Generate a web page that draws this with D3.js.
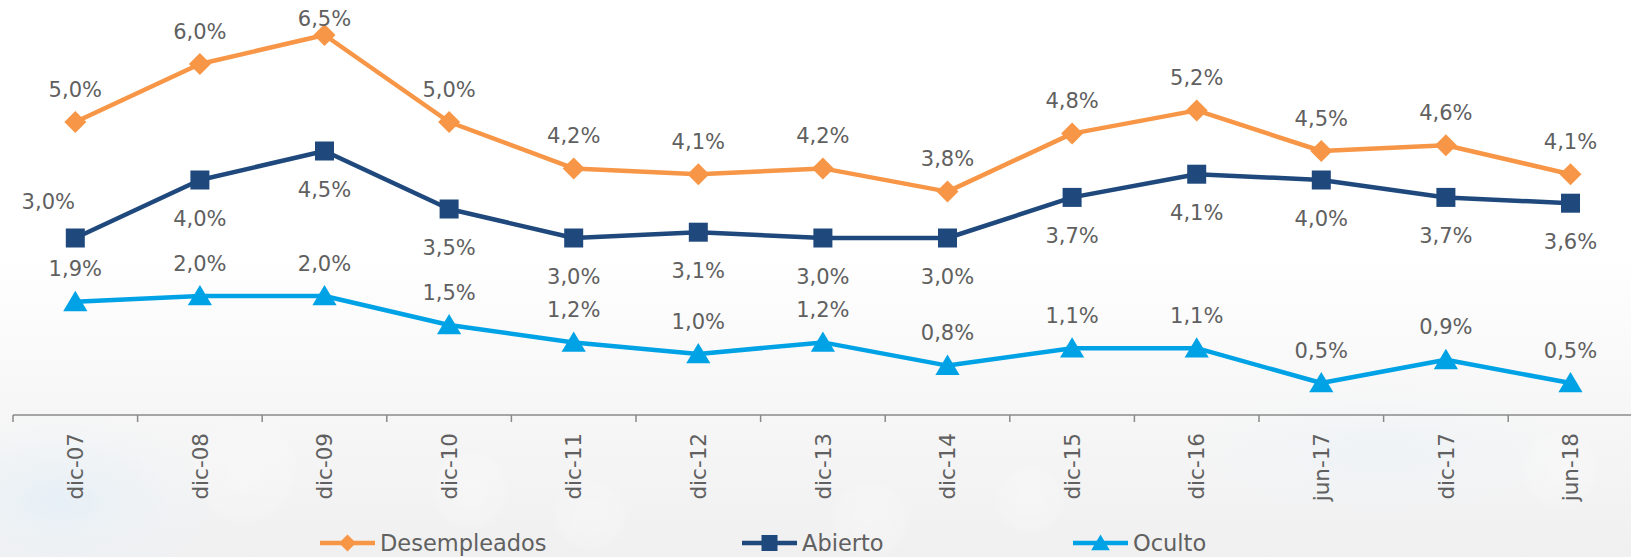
<!DOCTYPE html>
<meta charset="utf-8">
<style>
  html, body { margin: 0; padding: 0; background: #fff; }
  #chart { width: 1631px; height: 557px; }
  .lbl { font-family: "DejaVu Sans", sans-serif; fill: #606060; }
</style>
<div id="chart"></div>
<script src="https://cdnjs.cloudflare.com/ajax/libs/d3/7.8.5/d3.min.js"></script>
<script>
  // periods on the x axis
  var periods = ["dic-07", "dic-08", "dic-09", "dic-10", "dic-11", "dic-12", "dic-13",
                 "dic-14", "dic-15", "dic-16", "jun-17", "dic-17", "jun-18"];

  // rates in %
  var desempleados = [5.0, 6.0, 6.5, 5.0, 4.2, 4.1, 4.2, 3.8, 4.8, 5.2, 4.5, 4.6, 4.1];
  var abierto      = [3.0, 4.0, 4.5, 3.5, 3.0, 3.1, 3.0, 3.0, 3.7, 4.1, 4.0, 3.7, 3.6];
  var oculto       = [1.9, 2.0, 2.0, 1.5, 1.2, 1.0, 1.2, 0.8, 1.1, 1.1, 0.5, 0.9, 0.5];

  var seriesNames = ["Desempleados", "Abierto", "Oculto"];

  var width = 1631, height = 557;
  var axisY = 415;

  var svg = d3.select("#chart").append("svg")
    .attr("width", width)
    .attr("height", height);

  // ---- background (soft grey with faint bokeh) ----
  var defs = svg.append("defs");
  var bg = defs.append("linearGradient").attr("id", "bg")
    .attr("x1", 0).attr("y1", 0).attr("x2", 0).attr("y2", 1);
  bg.append("stop").attr("offset", "0%").attr("stop-color", "#ffffff");
  bg.append("stop").attr("offset", "45%").attr("stop-color", "#ffffff");
  bg.append("stop").attr("offset", "72%").attr("stop-color", "#f7f7f7");
  bg.append("stop").attr("offset", "100%").attr("stop-color", "#f0f0f1");

  var bokeh = defs.append("radialGradient").attr("id", "bokeh");
  bokeh.append("stop").attr("offset", "0%").attr("stop-color", "#ffffff").attr("stop-opacity", 0.8);
  bokeh.append("stop").attr("offset", "85%").attr("stop-color", "#ffffff").attr("stop-opacity", 0.4);
  bokeh.append("stop").attr("offset", "100%").attr("stop-color", "#ffffff").attr("stop-opacity", 0);

  var blue = defs.append("radialGradient").attr("id", "bluetint");
  blue.append("stop").attr("offset", "0%").attr("stop-color", "#e3eff7").attr("stop-opacity", 0.8);
  blue.append("stop").attr("offset", "100%").attr("stop-color", "#eef4f8").attr("stop-opacity", 0);

  svg.append("rect").attr("width", width).attr("height", height).attr("fill", "url(#bg)");
  svg.append("ellipse").attr("cx", 60).attr("cy", 500).attr("rx", 160).attr("ry", 90).attr("fill", "url(#bluetint)");
  svg.append("ellipse").attr("cx", 1380).attr("cy", 450).attr("rx", 200).attr("ry", 70).attr("fill", "url(#bluetint)").attr("opacity", 0.5);
  [[245, 470, 55], [470, 490, 40], [590, 515, 38], [870, 520, 40], [1030, 500, 35], [1560, 470, 40]]
    .forEach(function(b) {
      svg.append("circle").attr("cx", b[0]).attr("cy", b[1]).attr("r", b[2])
        .attr("fill", "url(#bokeh)").attr("opacity", 0.35);
    });

  // ---- scales ----
  var x = d3.scaleBand()
    .domain(periods)
    .range([13, 13 + 124.6 * periods.length]);

  var y = d3.scaleLinear()
    .domain([0, 7])
    .range([412, 6]);

  var cx = function(i) { return x(periods[i]) + x.bandwidth() / 2; };

  // ---- x axis ----
  var axis = svg.append("g")
    .attr("transform", "translate(0," + axisY + ")")
    .call(d3.axisBottom(x).tickSize(0).tickPadding(0));

  axis.select(".domain")
    .attr("stroke", "#8a8a8a")
    .attr("stroke-width", 1.5)
    .attr("d", "M" + x.range()[0] + ",0H" + x.range()[1]);

  axis.selectAll("text")
    .attr("class", "lbl")
    .attr("transform", "rotate(-90)")
    .attr("x", -18)
    .attr("y", 0)
    .attr("dy", "0.36em")
    .style("text-anchor", "end")
    .style("font-size", "21.5px")
    .style("font-family", "'DejaVu Sans', sans-serif")
    .attr("fill", "#606060");

  // ticks between categories
  axis.selectAll(".sep")
    .data(periods.map(function(p) { return x(p); }))
    .enter().append("line")
    .attr("class", "sep")
    .attr("x1", function(d) { return d; })
    .attr("x2", function(d) { return d; })
    .attr("y1", 0).attr("y2", 7)
    .attr("stroke", "#8a8a8a")
    .attr("stroke-width", 1.5);

  // ---- series ----
  var series = [
    { name: seriesNames[0], values: desempleados, color: "#f79646", symbol: "diamond" },
    { name: seriesNames[1], values: abierto,      color: "#1f497d", symbol: "square" },
    { name: seriesNames[2], values: oculto,       color: "#00a2e6", symbol: "triangle" }
  ];

  function marker(sel, kind, color, s) {
    if (kind === "diamond") {
      sel.append("path").attr("d", "M0," + (-s) + "L" + s + ",0L0," + s + "L" + (-s) + ",0Z").attr("fill", color);
    } else if (kind === "square") {
      sel.append("rect").attr("x", -s).attr("y", -s).attr("width", 2 * s).attr("height", 2 * s).attr("fill", color);
    } else {
      sel.append("path").attr("d", "M0," + (-s) + "L" + (s * 1.1) + "," + (s * 0.85) + "L" + (-s * 1.1) + "," + (s * 0.85) + "Z").attr("fill", color);
    }
  }

  var line = d3.line()
    .x(function(d, i) { return cx(i); })
    .y(function(d) { return y(d); });

  series.forEach(function(s) {
    svg.append("path")
      .datum(s.values)
      .attr("d", line)
      .attr("fill", "none")
      .attr("stroke", s.color)
      .attr("stroke-width", 4.5)
      .attr("stroke-linejoin", "round");

    var size = s.symbol === "diamond" ? 11 : (s.symbol === "square" ? 9.5 : 11);
    s.values.forEach(function(v, i) {
      var g = svg.append("g").attr("transform", "translate(" + cx(i) + "," + y(v) + ")");
      marker(g, s.symbol, s.color, size);
    });
  });

  // ---- data labels ----
  function fmt(v) { return d3.format(".1f")(v).replace(".", ",") + "%"; }

  function addLabels(values, place) {
    svg.append("g").selectAll("text")
      .data(values)
      .enter().append("text")
      .attr("class", "lbl")
      .attr("text-anchor", "middle")
      .attr("dy", "0.36em")
      .style("font-size", "21px")
      .attr("x", function(d, i) { return place(d, i)[0]; })
      .attr("y", function(d, i) { return place(d, i)[1]; })
      .text(fmt);
  }

  addLabels(desempleados, function(d, i) {
    return [cx(i), Math.max(y(d) - 33, 18)];
  });
  addLabels(abierto, function(d, i) {
    if (i === 0) return [cx(i) - 27, y(d) - 37];
    return [cx(i), y(d) + 38];
  });
  addLabels(oculto, function(d, i) {
    return [cx(i), y(d) - 33];
  });

  // ---- legend ----
  var legendX = [320, 742, 1073];
  var legendY = 543;
  series.forEach(function(s, k) {
    var g = svg.append("g").attr("transform", "translate(" + legendX[k] + "," + legendY + ")");
    g.append("line")
      .attr("x1", 0).attr("x2", 55).attr("y1", 0).attr("y2", 0)
      .attr("stroke", s.color).attr("stroke-width", 4.5);
    var m = g.append("g").attr("transform", "translate(27.5,0)");
    marker(m, s.symbol, s.color, s.symbol === "square" ? 8 : 8.5);
    g.append("text")
      .attr("class", "lbl")
      .attr("x", 60)
      .attr("dy", "0.36em")
      .style("font-size", "22.5px")
      .text(s.name);
  });
</script>
